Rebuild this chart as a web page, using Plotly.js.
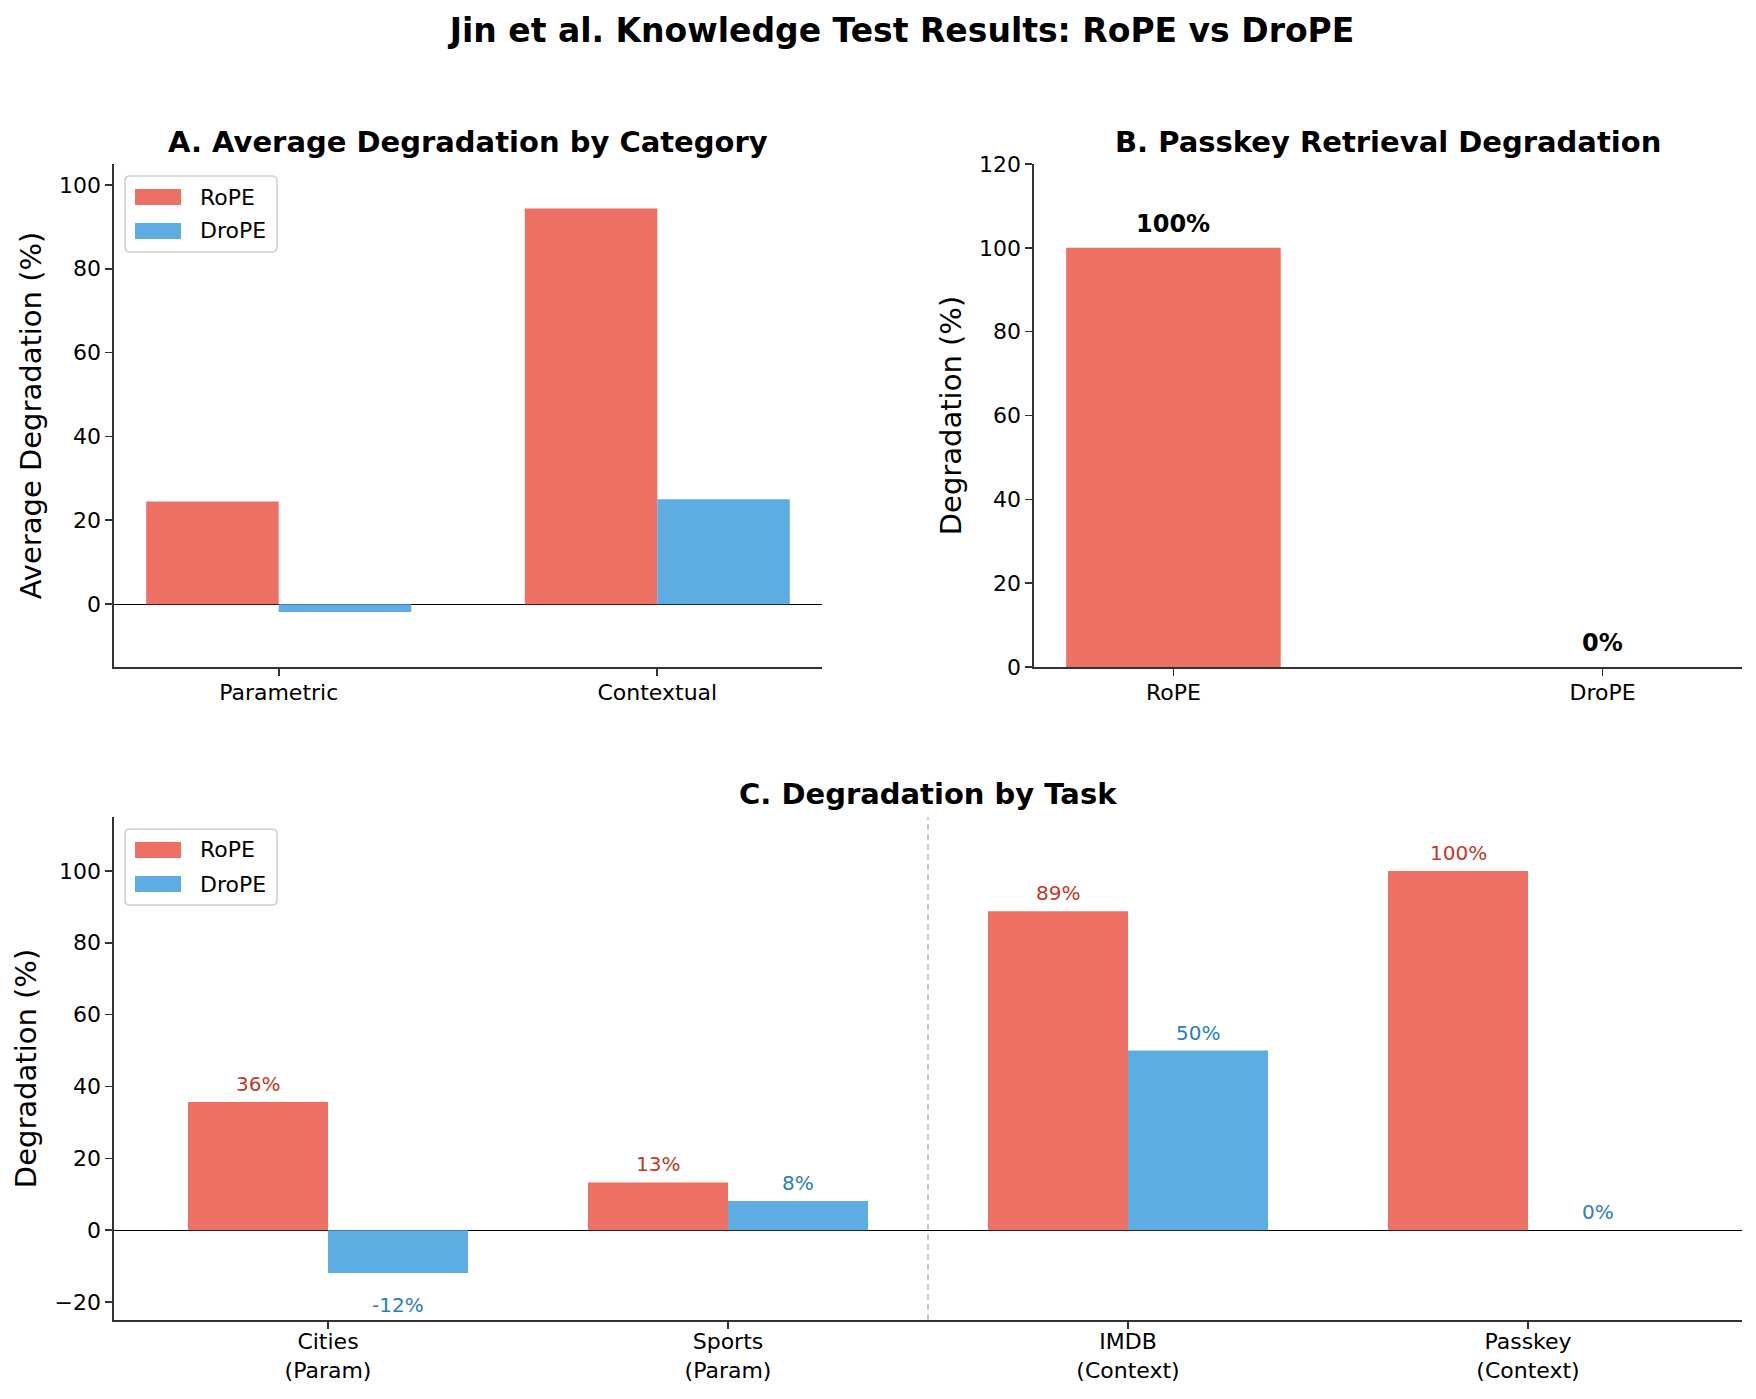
<!DOCTYPE html>
<html><head><meta charset="utf-8">
<script src="https://cdn.plot.ly/plotly-3.0.1.min.js"></script>
<style>html,body{margin:0;padding:0;background:#fff}#chart{width:1756px;height:1399px}</style>
</head><body><div id="chart"></div>
<script>
// ---- data ----
const categoryNames = ['Parametric', 'Contextual'];
const categoryRoPE = [24.5, 94.4];
const categoryDroPE = [-1.9, 25.0];

const passkeyMethods = ['RoPE', 'DroPE'];
const passkeyValues = [100, 0];

const taskNames = ['Cities', 'Sports', 'IMDB', 'Passkey'];
const taskTypes = ['Param', 'Param', 'Context', 'Context'];
const taskRoPE = [35.7, 13.3, 88.8, 100];
const taskDroPE = [-11.9, 8.1, 50.0, 0];

const seriesNames = ['RoPE', 'DroPE'];
const yTicksA = [0, 20, 40, 60, 80, 100];
const yTicksB = [0, 20, 40, 60, 80, 100, 120];
const yTicksC = [-20, 0, 20, 40, 60, 80, 100];

// ---- styles ----
const FONT = 'DejaVu Sans';
const C_ROPE = '#EC7063', C_DROPE = '#5DADE2';
const T_ROPE = '#c0392b', T_DROPE = '#2980b9';
const seriesColors = [C_ROPE, C_DROPE];
const BW = 0.35;
const W = 1756, H = 1399;
const px = v => v / W, py = v => 1 - v / H;

const taskLabels = taskNames.map((n, i) => n + '<br>(' + taskTypes[i] + ')');
const paramCount = taskTypes.filter(t => t === 'Param').length;

const traces = [
  {type: 'bar', x: categoryNames, y: categoryRoPE, offset: -BW, width: BW, name: seriesNames[0],
   marker: {color: C_ROPE, line: {width: 0}}, xaxis: 'x', yaxis: 'y', showlegend: false, hoverinfo: 'none'},
  {type: 'bar', x: categoryNames, y: categoryDroPE, offset: 0, width: BW, name: seriesNames[1],
   marker: {color: C_DROPE, line: {width: 0}}, xaxis: 'x', yaxis: 'y', showlegend: false, hoverinfo: 'none'},
  {type: 'bar', x: passkeyMethods, y: passkeyValues, offset: -0.25, width: 0.5, showlegend: false,
   marker: {color: [C_ROPE, C_DROPE], line: {width: 0}}, xaxis: 'x2', yaxis: 'y2', hoverinfo: 'none'},
  {type: 'bar', x: taskLabels, y: taskRoPE, offset: -BW, width: BW, name: seriesNames[0],
   marker: {color: C_ROPE, line: {width: 0}}, xaxis: 'x3', yaxis: 'y3', showlegend: false, hoverinfo: 'none'},
  {type: 'bar', x: taskLabels, y: taskDroPE, offset: 0, width: BW, name: seriesNames[1],
   marker: {color: C_DROPE, line: {width: 0}}, xaxis: 'x3', yaxis: 'y3', showlegend: false, hoverinfo: 'none'}
];

const axBase = {
  showline: true, linecolor: '#333', linewidth: 1.6, mirror: false,
  ticks: 'outside', ticklen: 7, tickwidth: 1.6, tickcolor: '#333',
  tickfont: {family: FONT, size: 22, color: '#000'},
  showgrid: false, zeroline: false, automargin: false, fixedrange: true
};
const xA = [px(114), px(822)], xB = [px(1034), px(1742)], xC = [px(114), px(1742)];
const yAB = [py(667), py(164)], yC = [py(1320), py(817)];

const titleFont = {family: FONT, size: 29, color: '#000'};

const annotations = [];
const shapes = [];
function subTitle(text, dom, yPix) {
  annotations.push({text: '<b>' + text + '</b>', xref: 'paper', yref: 'paper',
    x: (dom[0] + dom[1]) / 2, y: py(yPix), xanchor: 'center', yanchor: 'middle',
    showarrow: false, font: {family: FONT, size: 29, color: '#000'}});
}
subTitle('A. Average Degradation by Category', xA, 142);
subTitle('B. Passkey Retrieval Degradation', xB, 142);
subTitle('C. Degradation by Task', xC, 794);

passkeyValues.forEach((v, i) => {
  annotations.push({text: '<b>' + v.toFixed(0) + '%</b>', xref: 'x2', yref: 'y2',
    x: passkeyMethods[i], y: v, xanchor: 'center', yanchor: 'bottom', yshift: 8,
    showarrow: false, font: {family: FONT, size: 24, color: '#000'}});
});
function taskLabel(vals, shift, color) {
  vals.forEach((v, i) => {
    const pos = v >= 0;
    annotations.push({text: v.toFixed(0) + '%', xref: 'x3', yref: 'y3',
      x: i + shift, y: v, xanchor: 'center', yanchor: pos ? 'bottom' : 'top',
      yshift: pos ? 4 : -18, showarrow: false,
      font: {family: FONT, size: 20, color: color}});
  });
}
taskLabel(taskRoPE, -BW / 2, T_ROPE);
taskLabel(taskDroPE, BW / 2, T_DROPE);

// legend box (matplotlib-style) : left, top in pixels
function addLegend(left, top) {
  const w = 152, h = 76, r = 5;
  const x0 = px(left), x1 = px(left + w), y0 = py(top), y1 = py(top + h);
  const rx = r / W, ry = r / H;
  shapes.push({type: 'path', xref: 'paper', yref: 'paper',
    path: `M ${x0 + rx} ${y0} L ${x1 - rx} ${y0} Q ${x1} ${y0} ${x1} ${y0 - ry} L ${x1} ${y1 + ry} Q ${x1} ${y1} ${x1 - rx} ${y1} L ${x0 + rx} ${y1} Q ${x0} ${y1} ${x0} ${y1 + ry} L ${x0} ${y0 - ry} Q ${x0} ${y0} ${x0 + rx} ${y0} Z`,
    fillcolor: 'rgba(255,255,255,0.8)', line: {color: '#d0d0d0', width: 1.6}, layer: 'above'});
  seriesNames.forEach((name, k) => {
    const cy = top + 21 + k * 34;
    shapes.push({type: 'rect', xref: 'paper', yref: 'paper',
      x0: px(left + 10), x1: px(left + 56), y0: py(cy - 8), y1: py(cy + 8),
      fillcolor: seriesColors[k], line: {width: 0}, layer: 'above'});
    annotations.push({text: name, xref: 'paper', yref: 'paper', x: px(left + 73), y: py(cy),
      xanchor: 'left', yanchor: 'middle', showarrow: false,
      font: {family: FONT, size: 22, color: '#000'}});
  });
}
addLegend(125, 176);
addLegend(125, 829);

shapes.push({type: 'line', xref: 'x3', yref: 'y3 domain', x0: paramCount - 0.5, x1: paramCount - 0.5, y0: 0, y1: 1,
  line: {color: 'rgba(128,128,128,0.5)', width: 1.6, dash: '6px,4px'}, layer: 'below'});

const layout = {
  width: W, height: H, paper_bgcolor: '#fff', plot_bgcolor: '#fff',
  margin: {l: 0, r: 0, t: 0, b: 0}, barmode: 'overlay', showlegend: false,
  font: {family: FONT, color: '#000'},
  title: {text: '<b>Jin et al. Knowledge Test Results: RoPE vs DroPE</b>', x: 902 / W, xanchor: 'center',
    y: py(30), yanchor: 'middle', xref: 'container', yref: 'container',
    font: {family: FONT, size: 33, color: '#000'}},
  xaxis: Object.assign({}, axBase, {domain: xA, anchor: 'y', type: 'category', range: [-0.435, 1.435], ticklabelstandoff: -2}),
  yaxis: Object.assign({}, axBase, {domain: yAB, anchor: 'x', range: [-15, 105], tickmode: 'array', tickvals: yTicksA,
    zeroline: true, zerolinecolor: '#000', zerolinewidth: 1.2,
    title: {text: 'Average Degradation (%)', font: titleFont, standoff: 9}}),
  xaxis2: Object.assign({}, axBase, {domain: xB, anchor: 'y2', type: 'category', range: [-0.325, 1.325], ticklabelstandoff: -2}),
  yaxis2: Object.assign({}, axBase, {domain: yAB, anchor: 'x2', range: [0, 120], tickmode: 'array', tickvals: yTicksB,
    title: {text: 'Degradation (%)', font: titleFont, standoff: 9}}),
  xaxis3: Object.assign({}, axBase, {domain: xC, anchor: 'y3', type: 'category', range: [-0.535, 3.535], ticklabelstandoff: -6}),
  yaxis3: Object.assign({}, axBase, {domain: yC, anchor: 'x3', range: [-25, 115], tickmode: 'array', tickvals: yTicksC,
    zeroline: true, zerolinecolor: '#000', zerolinewidth: 1.2,
    title: {text: 'Degradation (%)', font: titleFont, standoff: 9}}),
  shapes: shapes,
  annotations: annotations
};

Plotly.newPlot('chart', traces, layout, {displayModeBar: false, staticPlot: true});
</script>
</body></html>
